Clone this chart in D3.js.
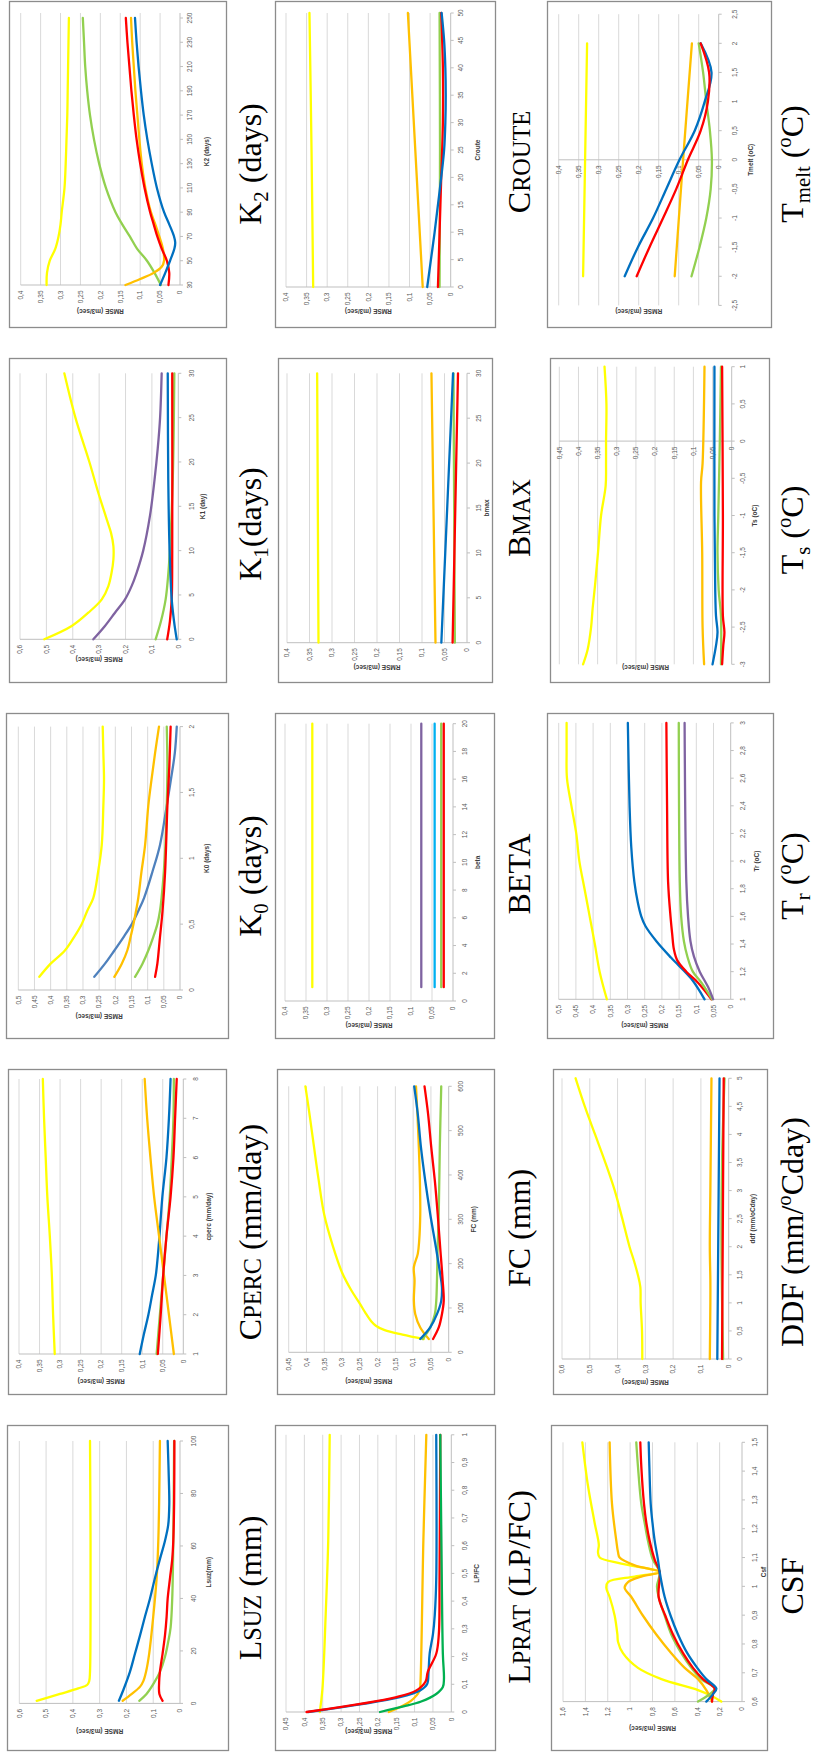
<!DOCTYPE html>
<html>
<head>
<meta charset="utf-8">
<script src="https://cdn.jsdelivr.net/npm/d3@7"></script>
<style>
  body { margin: 0; background: #fff; }
  svg { display: block; }
</style>
</head>
<body>
<svg id="fig" width="816" height="1753"></svg>
<script>
// ---------------- RMSE (m3/sec) tick sets ----------------
const rmseTicks40 = [0, 0.05, 0.1, 0.15, 0.2, 0.25, 0.3, 0.35, 0.4];
const rmseTicks45 = [0, 0.05, 0.1, 0.15, 0.2, 0.25, 0.3, 0.35, 0.4, 0.45];
const rmseTicks50 = [0, 0.05, 0.1, 0.15, 0.2, 0.25, 0.3, 0.35, 0.4, 0.45, 0.5];
const rmseTicks60 = [0, 0.1, 0.2, 0.3, 0.4, 0.5, 0.6];
const rmseTicks160 = [0, 0.2, 0.4, 0.6, 0.8, 1, 1.2, 1.4, 1.6];

// ---------------- parameter axis tick sets ----------------
const k2Ticks = [30, 50, 70, 90, 110, 130, 150, 170, 190, 210, 230, 250];
const crouteTicks = [0, 5, 10, 15, 20, 25, 30, 35, 40, 45, 50];
const tmeltTicks = [-2.5, -2, -1.5, -1, -0.5, 0, 0.5, 1, 1.5, 2, 2.5];
const k1Ticks = [0, 5, 10, 15, 20, 25, 30];
const bmaxTicks = [0, 5, 10, 15, 20, 25, 30];
const tsTicks = [-3, -2.5, -2, -1.5, -1, -0.5, 0, 0.5, 1];
const k0Ticks = [0, 0.5, 1, 1.5, 2];
const betaTicks = [0, 2, 4, 6, 8, 10, 12, 14, 16, 18, 20];
const trTicks = [1, 1.2, 1.4, 1.6, 1.8, 2, 2.2, 2.4, 2.6, 2.8, 3];
const cpercTicks = [1, 2, 3, 4, 5, 6, 7, 8];
const fcTicks = [0, 100, 200, 300, 400, 500, 600];
const ddfTicks = [0, 0.5, 1, 1.5, 2, 2.5, 3, 3.5, 4, 4.5, 5];
const lsuzTicks = [0, 20, 40, 60, 80, 100];
const lpratTicks = [0, 0.1, 0.2, 0.3, 0.4, 0.5, 0.6, 0.7, 0.8, 0.9, 1];
const csfTicks = [0.6, 0.7, 0.8, 0.9, 1, 1.1, 1.2, 1.3, 1.4, 1.5];

// ---------------- series: [parameter value, RMSE] ----------------
// K2 (days)
const k2Yellow = [[30,.335],[40,.334],[50,.327],[60,.313],[70,.305],[80,.300],[90,.297],[110,.290],[130,.287],[150,.285],[170,.283],[190,.282],[210,.281],[230,.280],[250,.279]];
const k2Green = [[30,.048],[40,.064],[50,.083],[60,.108],[70,.126],[80,.145],[90,.162],[110,.186],[130,.203],[150,.216],[170,.226],[190,.233],[210,.238],[230,.241],[250,.244]];
const k2Orange = [[30,.137],[35,.100],[40,.066],[45,.046],[50,.040],[60,.043],[70,.052],[80,.062],[90,.073],[110,.087],[130,.096],[150,.102],[170,.107],[190,.112],[210,.116],[230,.120],[250,.123]];
const k2Red = [[30,.029],[40,.027],[50,.033],[60,.046],[70,.057],[80,.066],[90,.075],[110,.089],[130,.100],[150,.109],[170,.116],[190,.122],[210,.127],[230,.132],[250,.136]];
const k2Blue = [[30,.050],[40,.037],[50,.025],[60,.014],[65,.012],[70,.015],[80,.027],[90,.040],[110,.058],[130,.071],[150,.082],[170,.091],[190,.098],[210,.104],[230,.109],[250,.113]];

// Croute
const crouteYellow = [[0,.334],[25,.338],[50,.343]];
const crouteOrange = [[0,.068],[25,.086],[50,.104]];
const crouteBlue = [[0,.057],[5,.048],[10,.039],[15,.031],[20,.023],[25,.016],[30,.013],[35,.012],[40,.013],[45,.016],[50,.022]];
const crouteRed = [[0,.031],[10,.027],[20,.023],[30,.019],[40,.019],[50,.023]];
const crouteGreen = [[0,.027],[25,.026],[50,.027]];

// Tmelt (oC)
const tmeltYellow = [[-2,.339],[0,.334],[2,.329]];
const tmeltOrange = [[-2,.110],[0,.089],[2,.067]];
const tmeltBlue = [[-2,.235],[-1.5,.202],[-1,.164],[-0.5,.131],[0,.098],[0.5,.060],[1,.035],[1.5,.018],[2,.045]];
const tmeltRed = [[-2,.205],[-1.5,.173],[-1,.139],[-0.5,.106],[0,.077],[0.5,.045],[1,.027],[1.5,.024],[2,.045]];
const tmeltGreen = [[-2,.068],[-1.5,.048],[-1,.031],[-0.5,.020],[0,.017],[0.5,.022],[1,.031],[1.5,.039],[2,.050]];

// K1 (day)
const k1Yellow = [[0,.508],[1.5,.404],[3,.341],[4.5,.290],[6,.265],[7.5,.253],[9,.246],[10.5,.246],[12,.255],[13.5,.271],[15,.287],[16.5,.303],[20,.337],[25,.390],[30,.432]];
const k1Purple = [[0,.322],[1.5,.278],[3,.240],[4.5,.202],[6,.177],[7.5,.158],[10,.133],[14,.107],[18,.090],[21.5,.078],[25,.069],[30,.063]];
const k1Green = [[0,.086],[2,.066],[4.5,.048],[7,.039],[10,.032],[18,.021],[30,.015]];
const k1Red = [[0,.042],[2,.032],[4.5,.025],[10,.023],[30,.023]];
const k1Blue = [[0,.006],[2,.016],[4.5,.025],[10,.033],[18,.038],[30,.040]];

// bmax
const bmaxYellow = [[0,.330],[30,.333]];
const bmaxOrange = [[0,.070],[30,.079]];
const bmaxBlue = [[0,.057],[30,.031]];
const bmaxRed = [[0,.032],[30,.020]];
const bmaxGreen = [[0,.027],[30,.030]];

// Ts (oC)
const tsYellow = [[-3,.388],[-2.8,.376],[-2.5,.367],[-2.25,.363],[-1.9,.356],[-1.5,.349],[-1,.341],[-0.6,.329],[-0.3,.328],[0,.328],[0.5,.327],[1,.332]];
const tsOrange = [[-3,.072],[-2.5,.076],[-1.5,.077],[-0.55,.080],[-0.3,.076],[1,.071]];
const tsBlue = [[-3,.050],[-2.75,.041],[-2.57,.037],[-2.35,.041],[-2,.043],[-1,.045],[1,.045]];
const tsGreen = [[-3,.028],[-2.35,.028],[-2,.034],[-1.5,.037],[-1,.035],[0,.031],[1,.028]];
const tsRed = [[-3,.025],[-2.75,.022],[-2.57,.019],[-2.35,.023],[-1,.023],[1,.025]];

// K0 (days)
const k0Yellow = [[0.1,.435],[0.2,.400],[0.3,.356],[0.4,.328],[0.5,.304],[0.6,.287],[0.7,.268],[0.9,.253],[1.1,.242],[1.4,.237],[1.6,.235],[1.8,.237],[2,.239]];
const k0Blue = [[0.1,.265],[0.2,.232],[0.3,.203],[0.4,.175],[0.5,.149],[0.6,.129],[0.7,.111],[0.9,.085],[1.1,.062],[1.4,.041],[1.6,.028],[1.8,.016],[2,.010]];
const k0Orange = [[0.1,.203],[0.2,.180],[0.3,.163],[0.4,.153],[0.5,.144],[0.6,.136],[0.7,.129],[0.9,.119],[1.1,.108],[1.4,.098],[1.6,.088],[1.8,.077],[2,.065]];
const k0Green = [[0.1,.139],[0.2,.116],[0.3,.098],[0.4,.083],[0.5,.070],[0.6,.062],[0.7,.057],[0.9,.050],[1.1,.045],[1.4,.041],[1.7,.039],[2,.041]];
const k0Red = [[0.1,.077],[0.2,.070],[0.4,.062],[0.6,.054],[0.9,.046],[1.4,.039],[1.7,.033],[2,.029]];

// beta
const betaYellow = [[1,.335],[20,.335]];
const betaPurple = [[1,.0755],[20,.0755]];
const betaSky = [[1,.0437],[20,.0437]];
const betaGreen = [[1,.028],[20,.028]];
const betaRed = [[1,.022],[20,.022]];

// Tr (oC)
const trYellow = [[1,.360],[1.2,.381],[1.4,.395],[1.6,.410],[1.8,.425],[2,.440],[2.2,.449],[2.4,.463],[2.6,.476],[2.8,.477],[3,.477]];
const trBlue = [[1,.076],[1.15,.115],[1.3,.173],[1.42,.216],[1.53,.248],[1.6,.260],[1.7,.270],[1.85,.280],[2.1,.289],[2.4,.294],[3,.299]];
const trRed = [[1,.056],[1.12,.095],[1.2,.129],[1.28,.155],[1.36,.165],[1.47,.170],[1.6,.175],[1.85,.182],[2.4,.185],[3,.187]];
const trGreen = [[1,.054],[1.12,.085],[1.2,.110],[1.31,.126],[1.42,.136],[1.6,.144],[1.85,.148],[3,.151]];
const trPurple = [[1,.051],[1.09,.066],[1.2,.090],[1.31,.107],[1.42,.117],[1.6,.124],[1.85,.129],[3,.134]];

// cperc (mm/day)
const cpercYellow = [[1,.313],[2,.317],[3,.320],[4,.325],[5,.331],[6,.335],[7,.339],[8,.342]];
const cpercBlue = [[1,.106],[1.5,.096],[2,.085],[2.5,.076],[3,.067],[3.5,.062],[4,.058],[5,.051],[6,.041],[7,.035],[8,.031]];
const cpercOrange = [[1,.023],[2,.035],[3,.047],[4,.059],[5,.071],[6,.080],[7,.088],[8,.094]];
const cpercRed = [[1,.062],[2,.055],[3,.049],[4,.041],[5,.031],[6,.024],[7,.020],[8,.016]];
const cpercGreen = [[1,.065],[2,.057],[3,.049],[4,.041],[5,.033],[6,.028],[7,.024],[8,.023]];

// FC (mm)
const fcYellow = [[30,.070],[40,.130],[50,.180],[60,.205],[70,.218],[90,.235],[110,.250],[140,.274],[180,.300],[240,.326],[310,.350],[390,.366],[470,.380],[540,.392],[600,.403]];
const fcOrange = [[30,.056],[56,.080],[86,.094],[116,.098],[162,.096],[192,.098],[222,.087],[252,.083],[312,.080],[387,.081],[462,.084],[538,.088],[600,.092]];
const fcBlue = [[30,.080],[56,.052],[86,.033],[116,.021],[147,.019],[177,.024],[237,.036],[312,.052],[387,.066],[462,.078],[538,.087],[600,.097]];
const fcRed = [[30,.044],[56,.028],[86,.019],[116,.014],[162,.017],[237,.024],[312,.031],[387,.039],[462,.049],[538,.058],[600,.068]];
const fcGreen = [[30,.073],[56,.052],[86,.039],[116,.035],[162,.033],[237,.031],[312,.028],[462,.025],[600,.021]];

// ddf (mm/oCday)
const ddfYellow = [[0,.311],[0.5,.312],[1,.317],[1.28,.318],[1.5,.327],[1.75,.341],[2,.357],[2.5,.383],[3,.410],[3.5,.444],[4,.481],[4.5,.518],[5,.551]];
const ddfOrange = [[0,.068],[1,.066],[1.4,.066],[2,.068],[3,.066],[5,.062]];
const ddfBlue = [[0,.041],[5,.033]];
const ddfRed = [[0,.024],[5,.018]];
const ddfGreen = [[0,.020],[2,.026],[3.5,.024],[5,.015]];

// Lsuz (mm)
const lsuzYellow = [[1,.535],[3.6,.448],[5.7,.380],[7.1,.346],[8.5,.339],[12,.336],[33,.334],[62,.334],[100,.336]];
const lsuzBlue = [[1,.228],[5,.212],[12,.187],[19,.168],[26,.149],[33,.131],[40,.112],[48,.093],[55,.075],[62,.056],[68,.044],[76,.040],[83,.041],[100,.046]];
const lsuzOrange = [[1,.214],[3.6,.180],[6.4,.149],[8.5,.137],[12,.127],[19,.115],[33,.100],[48,.087],[62,.081],[76,.078],[100,.075]];
const lsuzGreen = [[1,.152],[3.6,.125],[7.8,.097],[12,.075],[17.8,.056],[23.5,.044],[29,.035],[40,.029],[62,.025],[100,.022]];
const lsuzRed = [[1,.065],[3.6,.077],[7.8,.078],[12,.075],[19,.065],[26,.056],[33,.050],[40,.046],[48,.037],[55,.029],[62,.025],[76,.022],[100,.021]];

// LP/FC
const lpratYellow = [[0,.358],[0.08,.351],[0.35,.342],[0.62,.335],[1,.331]];
const lpratRed = [[0,.394],[0.054,.149],[0.078,.095],[0.11,.070],[0.145,.064],[0.21,.041],[0.28,.034],[0.48,.032],[1,.030]];
const lpratBlue = [[0,.390],[0.054,.140],[0.078,.085],[0.1,.066],[0.145,.062],[0.21,.059],[0.28,.050],[0.35,.045],[0.48,.041],[1,.041]];
const lpratGreen = [[0,.194],[0.02,.130],[0.038,.082],[0.065,.041],[0.09,.023],[0.12,.020],[0.21,.023],[0.62,.027],[1,.030]];
const lpratOrange = [[0,.170],[0.04,.110],[0.078,.086],[0.105,.084],[0.62,.076],[1,.068]];

// Csf
const csfYellow = [[0.6,.185],[0.62,.274],[0.64,.393],[0.678,.720],[0.717,.930],[0.768,1.064],[0.807,1.108],[0.833,1.114],[0.898,1.138],[0.963,1.183],[0.995,1.213],[1.015,1.198],[1.034,.959],[1.05,.736],[1.079,1.079],[1.1,1.272],[1.118,1.287],[1.144,1.280],[1.22,1.317],[1.35,1.377],[1.5,1.427]];
const csfOrange = [[0.6,.268],[0.64,.319],[0.678,.393],[0.717,.512],[0.768,.632],[0.833,.766],[0.898,.885],[0.963,.989],[0.995,1.049],[1.015,1.019],[1.034,.900],[1.05,.736],[1.073,.959],[1.1,1.094],[1.118,1.108],[1.157,1.123],[1.286,1.162],[1.5,1.183]];
const csfGreen = [[0.6,.393],[0.626,.289],[0.645,.244],[0.678,.364],[0.717,.453],[0.768,.542],[0.833,.632],[0.898,.691],[0.963,.745],[1.0,.760],[1.05,.736],[1.092,.796],[1.157,.840],[1.22,.870],[1.286,.900],[1.416,.930],[1.5,.945]];
const csfRed = [[0.6,.268],[0.626,.259],[0.645,.244],[0.678,.349],[0.717,.438],[0.768,.527],[0.833,.617],[0.898,.685],[0.963,.745],[1.05,.736],[1.092,.780],[1.157,.825],[1.22,.855],[1.286,.876],[1.416,.900],[1.5,.909]];
const csfBlue = [[0.6,.319],[0.626,.259],[0.645,.229],[0.678,.319],[0.717,.400],[0.768,.489],[0.833,.572],[0.898,.638],[0.963,.691],[1.05,.736],[1.092,.751],[1.157,.780],[1.22,.800],[1.286,.816],[1.416,.828],[1.5,.834]];

// ---------------- styling ----------------
const palette = {
  yellow: '#FFFF00', orange: '#FFC000', green: '#92D050', red: '#FF0000',
  blue: '#0070C0', purple: '#7F63A1', sky: '#00B0F0', dkgreen: '#00B050', steel: '#4F81BD'
};
const smallFont = "'Liberation Sans Narrow','Liberation Sans',Arial,sans-serif";
const serifFont = "'Liberation Serif','Times New Roman',serif";

// Each panel is an Excel-style chart turned a quarter-turn counter-clockwise:
// the parameter axis runs upward along the right side, RMSE grows to the left.
const charts = [
  { panel: [9, 1, 226, 327], r0: 180, rTop: 20.7, rTicks: rmseTicks40, xTicks: k2Ticks, yMin: 285, yMax: 18, gridTop: 13,
    tickX: 190, titleX: 207, rTitleY: 311, xTitle: 'K2 (days)',
    series: [[k2Yellow,'yellow'],[k2Green,'green'],[k2Orange,'orange'],[k2Red,'red'],[k2Blue,'blue']] },
  { panel: [275, 1, 495, 327], r0: 450.7, rTop: 286, rTicks: rmseTicks40, xTicks: crouteTicks, yMin: 287, yMax: 13,
    tickX: 461, titleX: 478, rTitleY: 311, xTitle: 'Croute',
    series: [[crouteYellow,'yellow'],[crouteOrange,'orange'],[crouteGreen,'green'],[crouteRed,'red'],[crouteBlue,'blue']] },
  { panel: [547, 1, 771, 327], r0: 718.7, rTop: 558.7, rTicks: rmseTicks40, xTicks: tmeltTicks, yMin: 305.4, yMax: 14.2, cross: 0,
    tickX: 734.7, titleX: 751, rTitleY: 311, xTitle: 'Tmelt (oC)',
    series: [[tmeltYellow,'yellow'],[tmeltOrange,'orange'],[tmeltGreen,'green'],[tmeltBlue,'blue'],[tmeltRed,'red']] },

  { panel: [9, 358, 226, 682], r0: 178.3, rTop: 20, rTicks: rmseTicks60, xTicks: k1Ticks, yMin: 639.3, yMax: 373.3,
    tickX: 191.7, titleX: 203, rTitleY: 659.5, xTitle: 'K1 (day)',
    series: [[k1Yellow,'yellow'],[k1Purple,'purple'],[k1Green,'green'],[k1Red,'red'],[k1Blue,'blue']] },
  { panel: [278, 358, 492, 682], r0: 467, rTop: 287, rTicks: rmseTicks40, xTicks: bmaxTicks, yMin: 642.7, yMax: 373.3,
    tickX: 478.7, titleX: 487, rTitleY: 667.7, xTitle: 'bmax',
    series: [[bmaxYellow,'yellow'],[bmaxOrange,'orange'],[bmaxGreen,'green'],[bmaxRed,'red'],[bmaxBlue,'blue']] },
  { panel: [550, 358, 769, 682], r0: 731.7, rTop: 559.3, rTicks: rmseTicks45, xTicks: tsTicks, yMin: 664.3, yMax: 366.7, cross: 0,
    tickX: 742.7, titleX: 754.3, rTitleY: 667, xTitle: 'Ts (oC)',
    series: [[tsYellow,'yellow'],[tsOrange,'orange'],[tsBlue,'blue'],[tsGreen,'green'],[tsRed,'red']] },

  { panel: [6, 713, 228, 1038], r0: 180, rTop: 18.3, rTicks: rmseTicks50, xTicks: k0Ticks, yMin: 990, yMax: 726.6,
    tickX: 191.7, titleX: 206.7, rTitleY: 1016, xTitle: 'K0 (days)',
    series: [[k0Yellow,'yellow'],[k0Blue,'steel'],[k0Orange,'orange'],[k0Green,'green'],[k0Red,'red']] },
  { panel: [275, 713, 494, 1038], r0: 453, rTop: 285, rTicks: rmseTicks40, xTicks: betaTicks, yMin: 1001, yMax: 723.7,
    tickX: 464.7, titleX: 478, rTitleY: 1025, xTitle: 'beta',
    series: [[betaYellow,'yellow'],[betaPurple,'purple'],[betaSky,'sky'],[betaGreen,'green'],[betaRed,'red']] },
  { panel: [547, 713, 773, 1038], r0: 730.7, rTop: 558.7, rTicks: rmseTicks50, xTicks: trTicks, yMin: 999.3, yMax: 722.9,
    tickX: 743, titleX: 756.3, rTitleY: 1025, xTitle: 'Tr (oC)',
    series: [[trYellow,'yellow'],[trBlue,'blue'],[trRed,'red'],[trGreen,'green'],[trPurple,'purple']] },

  { panel: [8, 1069, 226, 1394], r0: 183.3, rTop: 19, rTicks: rmseTicks40, xTicks: cpercTicks, yMin: 1354, yMax: 1079,
    tickX: 195.7, titleX: 209, rTitleY: 1381, xTitle: 'cperc (mm/day)',
    series: [[cpercYellow,'yellow'],[cpercBlue,'blue'],[cpercOrange,'orange'],[cpercGreen,'green'],[cpercRed,'red']] },
  { panel: [277, 1069, 494, 1394], r0: 448.7, rTop: 288.7, rTicks: rmseTicks45, xTicks: fcTicks, yMin: 1352.3, yMax: 1086.3,
    tickX: 460.3, titleX: 473.7, rTitleY: 1381, xTitle: 'FC (mm)',
    series: [[fcYellow,'yellow'],[fcOrange,'orange'],[fcGreen,'green'],[fcBlue,'blue'],[fcRed,'red']] },
  { panel: [553, 1069, 767, 1394], r0: 728.7, rTop: 562, rTicks: rmseTicks60, xTicks: ddfTicks, yMin: 1359, yMax: 1078.3,
    tickX: 739.7, titleX: 753, rTitleY: 1382, xTitle: 'ddf (mm/oCday)',
    series: [[ddfYellow,'yellow'],[ddfOrange,'orange'],[ddfBlue,'blue'],[ddfGreen,'green'],[ddfRed,'red']] },

  { panel: [7, 1425, 228, 1750], r0: 180, rTop: 19.3, rTicks: rmseTicks60, xTicks: lsuzTicks, yMin: 1703.4, yMax: 1441,
    tickX: 193.3, titleX: 208.3, rTitleY: 1731, xTitle: 'Lsuz(mm)',
    series: [[lsuzYellow,'yellow'],[lsuzGreen,'green'],[lsuzOrange,'orange'],[lsuzBlue,'blue'],[lsuzRed,'red']] },
  { panel: [275, 1425, 495, 1750], r0: 451.3, rTop: 286, rTicks: rmseTicks45, xTicks: lpratTicks, yMin: 1712, yMax: 1434.8,
    tickX: 464.7, titleX: 476.3, rTitleY: 1731, xTitle: 'LP/FC',
    series: [[lpratYellow,'yellow'],[lpratOrange,'orange'],[lpratBlue,'blue'],[lpratRed,'red'],[lpratGreen,'dkgreen']] },
  { panel: [551, 1425, 767, 1750], r0: 742, rTop: 563, rTicks: rmseTicks160, xTicks: csfTicks, yMin: 1701.6, yMax: 1442.3,
    tickX: 754.7, titleX: 763.5, rTitleY: 1728, xTitle: 'Csf',
    series: [[csfYellow,'yellow'],[csfOrange,'orange'],[csfGreen,'green'],[csfRed,'red'],[csfBlue,'blue']] }
];

// Large serif captions beside each panel
const captions = [
  { x: 261, y: 164,  parts: [['K'], ['2', 'sub'], [' (days)']] },
  { x: 530, y: 162,  parts: [['C'], ['ROUTE', 'sc']] },
  { x: 803, y: 164,  parts: [['T'], ['melt', 'sub'], [' ('], ['o', 'sup'], ['C)']] },
  { x: 261, y: 524,  parts: [['K'], ['1', 'sub'], ['(days)']] },
  { x: 530, y: 518,  parts: [['B'], ['MAX', 'sc']] },
  { x: 803, y: 530,  parts: [['T'], ['s', 'sub'], [' ('], ['o', 'sup'], ['C)']] },
  { x: 261, y: 876,  parts: [['K'], ['0', 'sub'], [' (days)']] },
  { x: 530, y: 874,  parts: [['BETA']] },
  { x: 803, y: 876,  parts: [['T'], ['r', 'sub'], [' ('], ['o', 'sup'], ['C)']] },
  { x: 261, y: 1232, parts: [['C'], ['PERC', 'sc'], [' (mm/day)']] },
  { x: 530, y: 1228, parts: [['FC (mm)']] },
  { x: 803, y: 1232, parts: [['DDF (mm/'], ['o', 'sup'], ['Cday)']] },
  { x: 261, y: 1588, parts: [['L'], ['SUZ', 'sc'], [' (mm)']] },
  { x: 530, y: 1587, parts: [['L'], ['PRAT', 'sc'], [' (LP/FC)']] },
  { x: 803, y: 1586, parts: [['CSF']] }
];

// ---------------- drawing ----------------
const svg = d3.select('#fig');
const fmt = v => String(Math.round(v * 1000) / 1000).replace('.', ',');

charts.forEach(c => {
  const g = svg.append('g');
  const [x0, y0, x1, y1] = c.panel;

  g.append('rect')
    .attr('x', x0 + 0.5).attr('y', y0 + 0.5)
    .attr('width', x1 - x0).attr('height', y1 - y0)
    .attr('fill', '#fff').attr('stroke', '#8c8c8c').attr('stroke-width', 1.3);

  const rMax = c.rTicks[c.rTicks.length - 1];
  const r = d3.scaleLinear().domain([0, rMax]).range([c.r0, c.rTop]);
  const p = d3.scaleLinear().domain([c.xTicks[0], c.xTicks[c.xTicks.length - 1]]).range([c.yMin, c.yMax]);
  const gridTop = c.gridTop != null ? c.gridTop : c.yMax;

  // value gridlines (vertical on the page)
  g.selectAll('line.grid').data(c.rTicks.filter(t => t > 0)).join('line')
    .attr('x1', d => r(d)).attr('x2', d => r(d))
    .attr('y1', c.yMin).attr('y2', gridTop)
    .attr('stroke', '#d9d9d9').attr('stroke-width', 1);

  // value axis line, crossing the parameter axis at its minimum or at zero
  const crossY = c.cross != null ? p(c.cross) : c.yMin;
  g.append('line')
    .attr('x1', r(0)).attr('x2', r(rMax)).attr('y1', crossY).attr('y2', crossY)
    .attr('stroke', '#bfbfbf').attr('stroke-width', 1);

  // parameter axis line at RMSE = 0 with outside ticks
  g.append('line')
    .attr('x1', c.r0).attr('x2', c.r0).attr('y1', c.yMin).attr('y2', gridTop)
    .attr('stroke', '#bfbfbf').attr('stroke-width', 1);
  g.selectAll('line.tick').data(c.xTicks).join('line')
    .attr('x1', c.r0).attr('x2', c.r0 + 3)
    .attr('y1', d => p(d)).attr('y2', d => p(d))
    .attr('stroke', '#bfbfbf').attr('stroke-width', 1);

  // parameter tick labels
  g.selectAll('text.xt').data(c.xTicks).join('text')
    .attr('transform', d => `translate(${c.tickX + 2.3},${p(d)}) rotate(-90)`)
    .attr('text-anchor', 'middle')
    .attr('font-family', smallFont).attr('font-size', 6.5).attr('fill', '#595959')
    .text(fmt);

  // RMSE tick labels
  const labelTop = crossY + 5.5;
  g.selectAll('text.rt').data(c.rTicks).join('text')
    .attr('transform', d => `translate(${r(d) + 2.3},${labelTop}) rotate(-90)`)
    .attr('text-anchor', 'end')
    .attr('font-family', smallFont).attr('font-size', 6.5).attr('fill', '#595959')
    .text(fmt);

  // axis titles
  g.append('text')
    .attr('transform', `translate(${c.titleX + 2.3},${(c.yMin + c.yMax) / 2}) rotate(-90)`)
    .attr('text-anchor', 'middle')
    .attr('font-family', smallFont).attr('font-size', 6.5).attr('font-weight', 'bold').attr('fill', '#404040')
    .text(c.xTitle);
  g.append('text')
    .attr('transform', `translate(${(r(0) + r(rMax)) / 2},${c.rTitleY - 2.3}) rotate(180)`)
    .attr('text-anchor', 'middle')
    .attr('font-family', smallFont).attr('font-size', 6.5).attr('font-weight', 'bold').attr('fill', '#404040')
    .text('RMSE (m3/sec)');

  // series
  const line = d3.line()
    .x(d => r(d[1]))
    .y(d => p(d[0]))
    .curve(d3.curveCatmullRom.alpha(0.5));
  c.series.forEach(([data, col]) => {
    g.append('path')
      .attr('d', line(data))
      .attr('fill', 'none')
      .attr('stroke', palette[col])
      .attr('stroke-width', 2.3)
      .attr('stroke-linejoin', 'round')
      .attr('stroke-linecap', 'round');
  });
});

// captions
captions.forEach(cap => {
  const size = 32;
  const t = svg.append('text')
    .attr('transform', `translate(${cap.x},${cap.y}) rotate(-90)`)
    .attr('text-anchor', 'middle')
    .attr('font-family', serifFont).attr('font-size', size).attr('fill', '#000')
    .style('white-space', 'pre');
  let shift = 0;
  cap.parts.forEach(([str, kind]) => {
    const target = kind === 'sub' ? 0.22 * size : kind === 'sup' ? -0.36 * size : 0;
    const ts = t.append('tspan').text(str).attr('dy', target - shift);
    shift = target;
    if (kind === 'sub' || kind === 'sup') ts.attr('font-size', size * 0.65);
    if (kind === 'sc') ts.attr('font-size', size * 0.76);
  });
});
</script>
</body>
</html>
